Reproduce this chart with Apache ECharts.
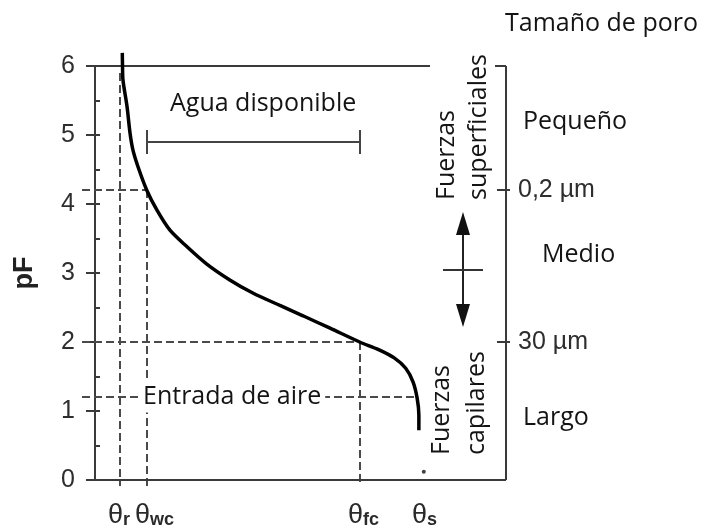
<!DOCTYPE html>
<html>
<head>
<meta charset="utf-8">
<script src="https://cdn.jsdelivr.net/npm/echarts@6/dist/echarts.min.js"></script>
<style>
  html, body { margin: 0; padding: 0; background: #ffffff; }
  #chart { width: 705px; height: 529px; }
</style>
</head>
<body>
<div id="chart"></div>
<script>
// Soil water retention curve: pF against volumetric water content θ
const curveTheta = [0.0332, 0.0335, 0.034, 0.039, 0.0426, 0.0462, 0.0523, 0.063, 0.0754, 0.0912,
                    0.112, 0.136, 0.164, 0.192, 0.225, 0.253, 0.286, 0.322, 0.345, 0.364,
                    0.378, 0.387, 0.392, 0.394, 0.394];
const curvePF    = [6.19, 5.99, 5.80, 5.41, 5.03, 4.78, 4.54, 4.20, 3.91, 3.62,
                    3.38, 3.13, 2.90, 2.71, 2.53, 2.38, 2.20, 2.00, 1.89, 1.77,
                    1.62, 1.42, 1.18, 0.94, 0.72];

// characteristic water contents
const thetaNames  = ['r', 'wc', 'fc', 's'];
const thetaValues = [0.03, 0.063, 0.322, 0.40];
const saturationPF = 0.12;

// reference suction levels
const pfWiltingPoint = 4.2;
const pfFieldCapacity = 2;
const pfAirEntry = 1.2;
const pfTicks = [0, 1, 2, 3, 4, 5, 6];

// pore size scale on the right
const poreLimitLabels = ['0,2 \u00b5m', '30 \u00b5m'];
const poreLimitPF     = [4.2, 2];
const poreClasses     = ['Peque\u00f1o', 'Medio', 'Largo'];
const poreClassPF     = [5.19, 3.26, 0.90];

const sansFont = '"Open Sans", "Noto Sans", sans-serif';
const narrowFont = '"Liberation Sans Narrow", "Arial Narrow", "Liberation Sans", sans-serif';
const ink = '#141414';
const frameColor = '#3a3a3a';
const dashColor = '#4a4a4a';

const chart = echarts.init(document.getElementById('chart'), null, { renderer: 'canvas' });

chart.setOption({
  animation: false,
  backgroundColor: '#ffffff',
  grid: { left: 95, right: 199, top: 66, bottom: 49 },
  xAxis: {
    type: 'value', min: 0, max: 0.5,
    axisLine: { show: false }, axisTick: { show: false },
    axisLabel: { show: false }, splitLine: { show: false }
  },
  yAxis: [
    {
      type: 'value', min: 0, max: 6, interval: 1, position: 'left',
      name: 'pF', nameLocation: 'middle', nameGap: 57, nameRotate: 90,
      nameTextStyle: { fontFamily: '"Liberation Sans", Arial, sans-serif', fontWeight: 'bold', fontSize: 27, color: '#222222' },
      axisLine: { show: true, lineStyle: { color: frameColor, width: 2 } },
      axisTick: { show: true, length: 9, lineStyle: { color: frameColor, width: 2 } },
      axisLabel: { margin: 20, fontFamily: narrowFont, fontSize: 25, color: '#2e2e2e',
                   formatter: v => pfTicks.indexOf(v) >= 0 ? String(v) : '' },
      splitLine: { show: false }
    },
    {
      type: 'value', min: 0, max: 6, interval: 0.5, position: 'left',
      axisLine: { show: false },
      axisTick: { show: true, inside: true, length: 5, lineStyle: { color: frameColor, width: 2 } },
      axisLabel: { show: false }, splitLine: { show: false }
    }
  ],
  series: [
    {
      name: 'Curva de retenci\u00f3n',
      type: 'line',
      data: curveTheta.map((t, i) => [t, curvePF[i]]),
      showSymbol: false, smooth: 0.3, clip: false, z: 5,
      lineStyle: { color: '#000000', width: 3.5 }
    },
    {
      name: 'Saturaci\u00f3n',
      type: 'scatter',
      data: [[thetaValues[3], saturationPF]],
      symbolSize: 4, z: 5,
      itemStyle: { color: '#111111' }
    }
  ]
});

function px(theta, pf) {
  const p = chart.convertToPixel({ gridIndex: 0 }, [theta, pf]);
  return [Math.round(p[0]), Math.round(p[1])];
}

const g = [];
function seg(x1, y1, x2, y2, style, z) {
  g.push({ type: 'line', silent: true, z: z || 1,
    shape: { x1, y1, x2, y2 },
    style: Object.assign({ stroke: frameColor, lineWidth: 2 }, style || {}) });
}
function text(x, y, str, font, opts) {
  g.push(Object.assign({ type: 'text', silent: true, z: 10, x, y,
    style: Object.assign({ text: str, font: font, fill: ink, align: 'left', verticalAlign: 'middle' }, (opts && opts.style) || {}) },
    (opts && opts.el) || {}));
}

const [xL, yB] = px(0, 0);
const [xR, yT] = px(0.5, 6);
const dashed = { stroke: dashColor, lineWidth: 2, lineDash: [8, 4] };

// guide lines
const xTr = px(thetaValues[0], 0)[0];
const xTwc = px(thetaValues[1], 0)[0];
const xTfc = px(thetaValues[2], 0)[0];
const xCurveEnd = px(curveTheta[curveTheta.length - 3], 0)[0];
const yWilt = px(0, pfWiltingPoint)[1];
const yFc = px(0, pfFieldCapacity)[1];
const yAir = px(0, pfAirEntry)[1];
seg(xTr, px(0, 5.9)[1], xTr, yB + 6, dashed);
seg(xTwc, yWilt, xTwc, yB + 6, dashed);
seg(xTfc, yFc, xTfc, yB + 6, dashed);
seg(xL - 13, yWilt, xTwc, yWilt, dashed);
seg(xL - 13, yFc, xTfc, yFc, dashed);
seg(xL - 13, yAir, xCurveEnd, yAir, dashed);

// frame
seg(xL - 9, yB, xR, yB, null, 3);
seg(xL - 9, yT, xR - 76, yT, null, 3);
seg(xR, yT, xR, yB, null, 3);
seg(xR - 11, yT, xR, yT, null, 3);
poreLimitPF.forEach((p, i) => {
  const y = px(0, p)[1];
  seg(xR - 9, y, xR + 4, y, null, 3);
  text(xR + 12, y, poreLimitLabels[i], '25px ' + narrowFont, { style: { fill: '#2e2e2e' } });
});

// available water bracket
const yAw = px(0, 4.9)[1];
seg(xTwc, yAw, xTfc, yAw, { stroke: '#444444' });
seg(xTwc, yAw - 12, xTwc, yAw + 12, { stroke: '#444444' });
seg(xTfc, yAw - 12, xTfc, yAw + 12, { stroke: '#444444' });
const aw = px(0.091, 5.45);
text(aw[0], aw[1], 'Agua disponible', '25px ' + sansFont);

// air entry label over the dashed line
const ae = px(0.057, pfAirEntry);
text(ae[0], ae[1], 'Entrada de aire', '25px ' + sansFont,
  { style: { backgroundColor: '#ffffff', padding: [3, 4, 3, 1] } });

// theta labels under the axis
thetaValues.forEach((t, i) => {
  const x = px(t, 0)[0] - 12;
  text(x, yB + 36, '{a|\u03b8}{b|' + thetaNames[i] + '}', '25px ' + narrowFont, {
    style: {
      fill: '#2e2e2e',
      rich: {
        a: { fontFamily: narrowFont, fontSize: 27, fill: '#2a2a2a', verticalAlign: 'bottom', lineHeight: 27 },
        b: { fontFamily: '"Liberation Sans", Arial, sans-serif', fontSize: 18, fontWeight: 'bold', fill: '#2a2a2a', verticalAlign: 'bottom', lineHeight: 23 }
      }
    }
  });
});

// pore size scale
text(xR - 1, yT - 42, 'Tama\u00f1o de poro', '25px ' + sansFont);
poreClasses.forEach((name, i) => {
  const y = px(0, poreClassPF[i])[1];
  text(xR + (i === 1 ? 36 : 17), y, name, '25px ' + sansFont);
});

// forces acting in each pore range (rotated labels)
const rot = { rotation: Math.PI / 2 };
const ySup = px(0, pfWiltingPoint)[1] + 10;
text(xR - 59, ySup, 'Fuerzas', '25px ' + sansFont, { el: rot });
text(xR - 27, ySup, 'superficiales', '25px ' + sansFont, { el: rot });
text(xR - 64, yB - 25, 'Fuerzas', '25px ' + sansFont, { el: rot });
text(xR - 29, yB - 25, 'capilares', '25px ' + sansFont, { el: rot });

// double arrow between small and large pores
const xa = xR - 43;
const yUp = px(0, 3.88)[1];
const yDown = px(0, 2.22)[1];
const yMid = px(0, 3.05)[1];
seg(xa, yUp + 10, xa, yDown - 10, { stroke: '#222222' });
g.push({ type: 'polygon', silent: true, z: 4, shape: { points: [[xa, yUp], [xa - 7, yUp + 23], [xa + 7, yUp + 23]] }, style: { fill: '#111111' } });
g.push({ type: 'polygon', silent: true, z: 4, shape: { points: [[xa, yDown], [xa - 7, yDown - 23], [xa + 7, yDown - 23]] }, style: { fill: '#111111' } });
seg(xa - 20, yMid, xa + 20, yMid, { stroke: '#333333' });

chart.setOption({ graphic: { elements: g } });
</script>
</body>
</html>
